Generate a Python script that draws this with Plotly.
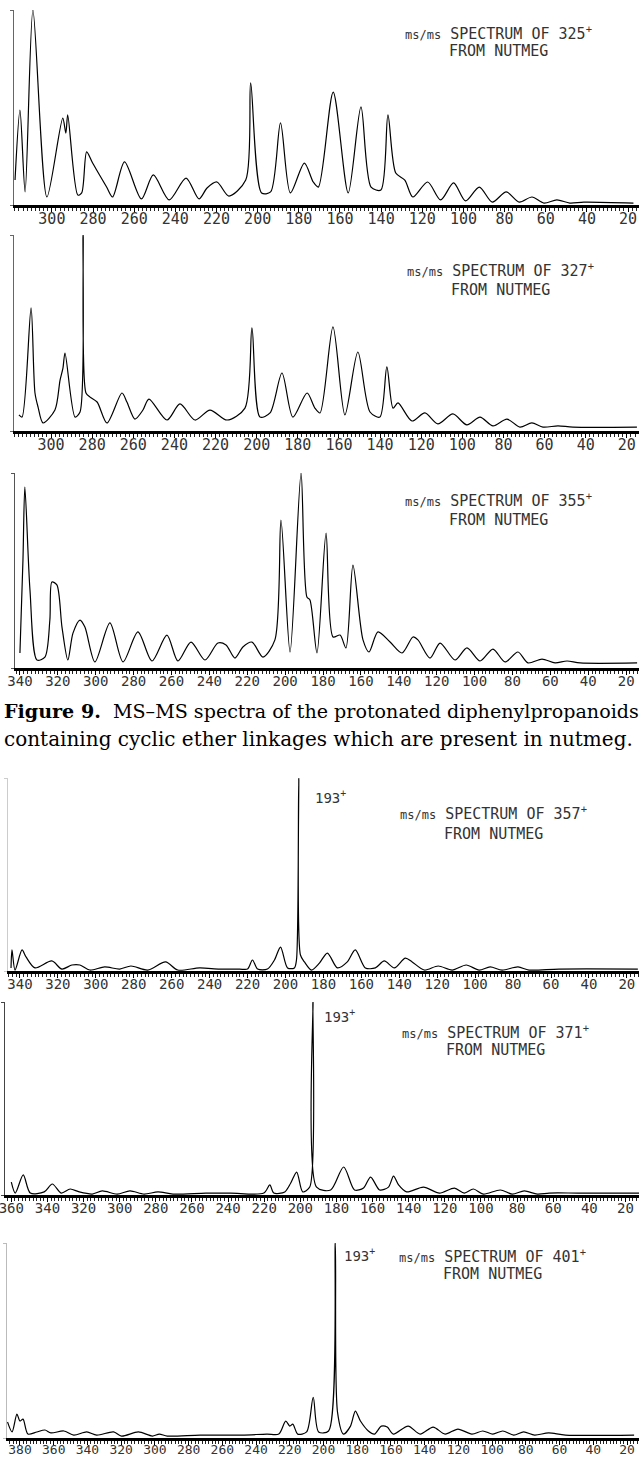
import plotly.graph_objects as go

W, H = 639, 1458

# ---------------- data (m/z , relative intensity) ----------------
# 325+ from nutmeg
mz_325 = [317.9, 315.5, 313.0, 309.2, 302.4, 294.7, 293.2, 292.3, 287.4, 285.5, 283.1, 280.2, 273.4, 270.5,
          264.7, 256.5, 250.7, 243.0, 234.8, 228.5, 224.6, 219.8, 214.0, 205.8, 203.4, 198.1, 193.7, 188.9,
          184.1, 177.3, 173.0, 170.5, 163.3, 156.0, 149.8, 144.9, 140.1, 136.7, 132.9, 128.5, 124.6, 117.4,
          111.1, 104.8, 99.0, 92.3, 86.0, 79.2, 72.9, 66.7, 60.9, 54.6, 48.3, 41.5, 17.4]
int_325 = [12.8, 48.7, 6.7, 100, 4.1, 44.6, 36.9, 46.2, 5.1, 6.2, 27.2, 21.5, 9.2, 4.1,
           22.1, 3.1, 15.4, 2.6, 13.8, 3.1, 8.7, 11.8, 4.6, 12.8, 62.6, 6.2, 6.7, 42.1,
           6.2, 21.5, 11.8, 9.2, 57.9, 6.2, 50.3, 9.2, 7.7, 46.2, 16.4, 12.8, 4.1, 11.8,
           2.6, 11.3, 2.1, 9.2, 1.5, 6.7, 1.5, 4.1, 1.0, 2.6, 1.0, 1.5, 1.0]

# 327+ from nutmeg
mz_327 = [315.6, 314.1, 309.7, 307.8, 306.3, 303.9, 298.1, 295.6, 294.2, 293.2, 288.3, 285.9, 284.4, 283.0,
          281.0, 277.6, 272.8, 265.5, 263.1, 259.2, 255.3, 252.4, 243.6, 237.3, 230.0, 222.7, 214.4, 205.7,
          202.3, 198.4, 193.5, 187.7, 182.4, 175.5, 171.7, 169.2, 162.9, 157.1, 150.8, 144.9, 140.1, 136.7,
          133.7, 131.3, 124.5, 118.2, 111.9, 104.6, 97.8, 91.4, 85.1, 78.3, 72.0, 66.2, 60.8, 53.5, 46.2, 15.1]
int_327 = [8.2, 7.1, 62.8, 19.4, 12.2, 4.1, 10.7, 26.0, 32.1, 39.8, 7.1, 9.7, 100, 19.4,
           17.3, 14.8, 4.1, 19.4, 14.8, 6.1, 10.7, 16.3, 5.6, 13.8, 5.6, 10.7, 5.6, 11.7,
           52.6, 7.1, 9.2, 29.6, 7.1, 19.4, 11.7, 9.2, 53.1, 8.2, 40.3, 9.7, 7.1, 32.7,
           11.7, 14.3, 5.1, 9.2, 3.6, 8.7, 3.1, 7.1, 2.6, 6.1, 2.0, 4.1, 2.0, 2.6, 2.0, 2.0]

# 355+ from nutmeg
mz_355 = [340.0, 338.4, 337.4, 334.7, 331.0, 326.8, 324.2, 323.1, 320.5, 317.8, 314.7, 312.0, 308.3, 305.7,
          300.4, 292.5, 285.6, 277.7, 270.3, 262.4, 256.6, 249.7, 242.3, 235.5, 231.2, 226.5, 222.3, 217.5,
          211.7, 205.4, 202.2, 197.4, 191.6, 188.5, 186.9, 183.2, 178.4, 174.7, 171.0, 167.9, 164.2, 158.9,
          155.7, 151.0, 144.6, 138.3, 132.5, 129.9, 123.5, 118.2, 110.3, 104.0, 97.1, 90.3, 83.9, 77.1,
          71.8, 64.4, 57.5, 51.2, 44.3, 14.2]
int_355 = [7.7, 55.4, 92.8, 40.0, 4.1, 5.6, 24.6, 44.1, 42.6, 21.0, 4.1, 17.9, 24.6, 21.0,
           3.1, 23.1, 3.1, 18.5, 3.6, 16.9, 3.6, 13.3, 4.1, 12.8, 11.8, 5.1, 10.8, 13.3,
           5.6, 14.4, 75.9, 8.2, 100, 36.4, 34.9, 7.7, 69.2, 15.9, 16.9, 10.3, 52.8, 14.4,
           8.2, 18.5, 13.3, 7.7, 15.9, 14.4, 5.1, 12.8, 4.1, 10.3, 3.6, 9.7, 3.1, 8.2,
           2.6, 4.6, 2.6, 3.6, 2.6, 2.6]

# 357+ from nutmeg
mz_357 = [344.7, 344.2, 342.6, 338.9, 336.8, 332.1, 323.2, 317.9, 312.6, 308.4, 303.2, 295.3, 287.4, 281.5,
          272.6, 263.2, 256.8, 245.3, 234.7, 224.2, 220.0, 217.4, 214.7, 209.5, 205.8, 202.6, 198.9, 195.3,
          194.2, 193.0, 192.1, 190.0, 186.3, 182.1, 177.9, 172.6, 167.4, 163.2, 157.9, 152.6, 147.9, 142.6,
          136.8, 133.2, 126.8, 119.5, 112.1, 104.7, 97.9, 92.1, 85.8, 77.4, 71.6, 55.8, 14.2]
int_357 = [1.6, 10.9, 0.5, 10.9, 7.3, 1.6, 5.2, 1.0, 3.1, 3.1, 0.5, 2.1, 1.0, 2.6,
           0.5, 4.7, 0.5, 1.6, 1.0, 1.0, 1.0, 5.7, 1.0, 1.0, 5.7, 12.4, 1.6, 1.6,
           5.7, 100, 8.3, 4.7, 0.5, 4.1, 9.3, 1.6, 4.7, 10.9, 1.6, 1.6, 5.2, 1.6,
           6.7, 4.7, 0.5, 2.6, 0.5, 3.1, 0.5, 2.1, 0.5, 2.1, 0.5, 1.0, 1.0]

# 371+ from nutmeg
mz_371 = [360.0, 357.8, 353.4, 349.5, 341.8, 337.3, 332.4, 327.4, 322.4, 315.2, 309.7, 301.4, 294.3, 286.5,
          278.8, 270.5, 252.3, 238.5, 220.2, 216.9, 214.7, 208.6, 205.3, 202.0, 198.7, 194.8, 193.0, 191.0,
          183.2, 176.0, 170.0, 165.0, 161.1, 156.1, 151.2, 148.4, 145.6, 141.2, 131.8, 123.0, 114.7, 109.2,
          104.2, 98.7, 89.3, 82.7, 76.0, 68.8, 62.2, 46.2, 12.5]
int_371 = [6.7, 1.0, 10.4, 1.0, 1.6, 5.7, 1.0, 3.1, 1.6, 0.5, 2.1, 0.5, 2.1, 0.5,
           1.6, 0.5, 1.0, 1.0, 1.0, 5.2, 1.0, 1.6, 6.2, 11.9, 1.6, 4.1, 100, 4.1,
           2.6, 14.5, 2.6, 3.6, 9.3, 2.6, 4.1, 9.8, 5.2, 1.6, 4.1, 1.0, 3.6, 1.0,
           3.1, 0.5, 2.6, 0.5, 2.1, 0.5, 1.0, 1.0, 1.0]

# 401+ from nutmeg
mz_401 = [387.4, 384.7, 381.8, 380.0, 378.2, 375.3, 370.0, 365.2, 361.7, 354.0, 348.1, 340.4, 334.5, 324.5,
          319.8, 309.8, 301.5, 297.4, 292.6, 273.2, 248.4, 233.6, 226.5, 222.4, 220.0, 218.2, 215.3, 210.0,
          206.1, 202.9, 197.0, 193.0, 191.7, 188.1, 184.0, 181.1, 178.1, 173.4, 169.8, 165.7, 162.2, 158.6,
          149.8, 142.7, 135.0, 127.9, 120.3, 112.0, 105.5, 99.6, 93.7, 87.2, 81.3, 74.8, 66.5, 56.5, 15.8]
int_401 = [8.2, 3.1, 12.2, 8.7, 9.7, 2.0, 3.1, 4.1, 2.6, 3.6, 1.5, 3.1, 1.5, 3.1,
           1.0, 3.1, 1.0, 2.0, 1.0, 1.5, 1.5, 2.0, 2.0, 8.7, 6.1, 7.1, 2.0, 3.1,
           20.9, 3.1, 3.6, 100, 13.3, 2.0, 6.1, 13.8, 8.7, 3.6, 2.0, 6.1, 5.6, 2.0,
           6.1, 2.0, 5.6, 2.0, 4.6, 2.0, 3.6, 2.0, 3.6, 1.5, 3.1, 1.5, 2.6, 1.5, 1.5]

precursors = ["325", "327", "355", "357", "371", "401"]
fragment_label = "193"

# ---------------- layout geometry (pixels) ----------------
panel_geom = [
    dict(base=205, top=10, left=14, xr=[318.4, 14.7], tfs=15, ycol="#666", ty=(33, 51), tx=498),
    dict(base=431, top=235, left=14, xr=[318.0, 14.1], tfs=15, ycol="#666", ty=(270, 290), tx=500),
    dict(base=668, top=473, left=15, xr=[342.6, 13.2], tfs=14, ycol="#555", ty=(500, 520), tx=498),
    dict(base=971, top=778, left=8, xr=[346.3, 13.6], tfs=14, ycol="#ccc", ty=(813, 834), tx=493),
    dict(base=1195, top=1002, left=5, xr=[363.5, 12.5], tfs=14, ycol="#444", ty=(1032, 1050), tx=495),
    dict(base=1438, top=1243, left=7, xr=[387.7, 12.9], tfs=13, ycol="#bbb", ty=(1256, 1274), tx=492),
]
frag_pos = {3: (185.3, 90), 4: (188.2, 93), 5: (189.3, 94)}

series = [(mz_325, int_325), (mz_327, int_327), (mz_355, int_355),
          (mz_357, int_357), (mz_371, int_371), (mz_401, int_401)]

fig = go.Figure()
mono = "DejaVu Sans Mono"
annotations = []

for i, ((mz, inten), g) in enumerate(zip(series, panel_geom)):
    n = i + 1
    xa = "x" if n == 1 else f"x{n}"
    ya = "y" if n == 1 else f"y{n}"
    fig.add_trace(go.Scatter(x=mz, y=inten, mode="lines", xaxis=xa, yaxis=ya,
                             line=dict(color="black", width=1.2, shape="spline", smoothing=0.8),
                             showlegend=False, hoverinfo="skip"))
    xkey = "xaxis" if n == 1 else f"xaxis{n}"
    ykey = "yaxis" if n == 1 else f"yaxis{n}"
    ydom = [1 - g["base"] / H, 1 - g["top"] / H]
    fig.layout[xkey] = dict(
        domain=[g["left"] / W, 1], range=g["xr"], anchor=ya,
        showline=True, linewidth=2.5, linecolor="black", showgrid=False, zeroline=False,
        ticks="outside", ticklen=4, tickwidth=1, tickcolor="black", dtick=20, tick0=0,
        minor=dict(dtick=2, ticks="outside", ticklen=3, tickcolor="#222", tickwidth=1),
        tickfont=dict(family=mono, size=g["tfs"], color="#333"),
        ticklabelstandoff=-6,
        ticklabeloverflow="allow", automargin=False, fixedrange=True)
    fig.layout[ykey] = dict(
        domain=ydom, range=[0, 100], anchor=xa,
        showline=True, linewidth=1, linecolor=g["ycol"], showgrid=False, zeroline=False,
        ticks="outside", ticklen=3, tickcolor=g["ycol"], tickvals=[0, 100],
        showticklabels=False, automargin=False, fixedrange=True)

    annotations.append(dict(
        xref="paper", yref="paper", x=g["tx"] / W, y=1 - g["ty"][0] / H,
        xanchor="center", yanchor="middle", showarrow=False,
        text=f"<span style='font-size:12px'>ms/ms</span> SPECTRUM OF {precursors[i]}<sup>+</sup>",
        font=dict(family=mono, size=15, color="#333")))
    annotations.append(dict(
        xref="paper", yref="paper", x=g["tx"] / W, y=1 - g["ty"][1] / H,
        xanchor="center", yanchor="middle", showarrow=False,
        text="FROM NUTMEG", font=dict(family=mono, size=15, color="#333")))
    if i in frag_pos:
        fx, fy = frag_pos[i]
        annotations.append(dict(
            xref=xa, yref=ya, x=fx, y=fy, xanchor="left", yanchor="middle", showarrow=False,
            text=f"{fragment_label}<sup>+</sup>", font=dict(family=mono, size=14, color="#333")))

# caption
annotations.append(dict(
    xref="paper", yref="paper", x=2 / W, y=1 - 712 / H, xanchor="left", yanchor="middle",
    showarrow=False, align="left",
    text="<b>Figure 9.</b>\u00a0 MS\u2013MS spectra of the protonated diphenylpropanoids",
    font=dict(family="DejaVu Serif", size=19.1, color="black")))
annotations.append(dict(
    xref="paper", yref="paper", x=2 / W, y=1 - 739 / H, xanchor="left", yanchor="middle",
    showarrow=False, align="left",
    text="containing cyclic ether linkages which are present in nutmeg.",
    font=dict(family="DejaVu Serif", size=20, color="black")))

fig.update_layout(width=W, height=H, margin=dict(l=0, r=0, t=0, b=0),
                  paper_bgcolor="white", plot_bgcolor="white", annotations=annotations)

fig.write_html("out.html")
